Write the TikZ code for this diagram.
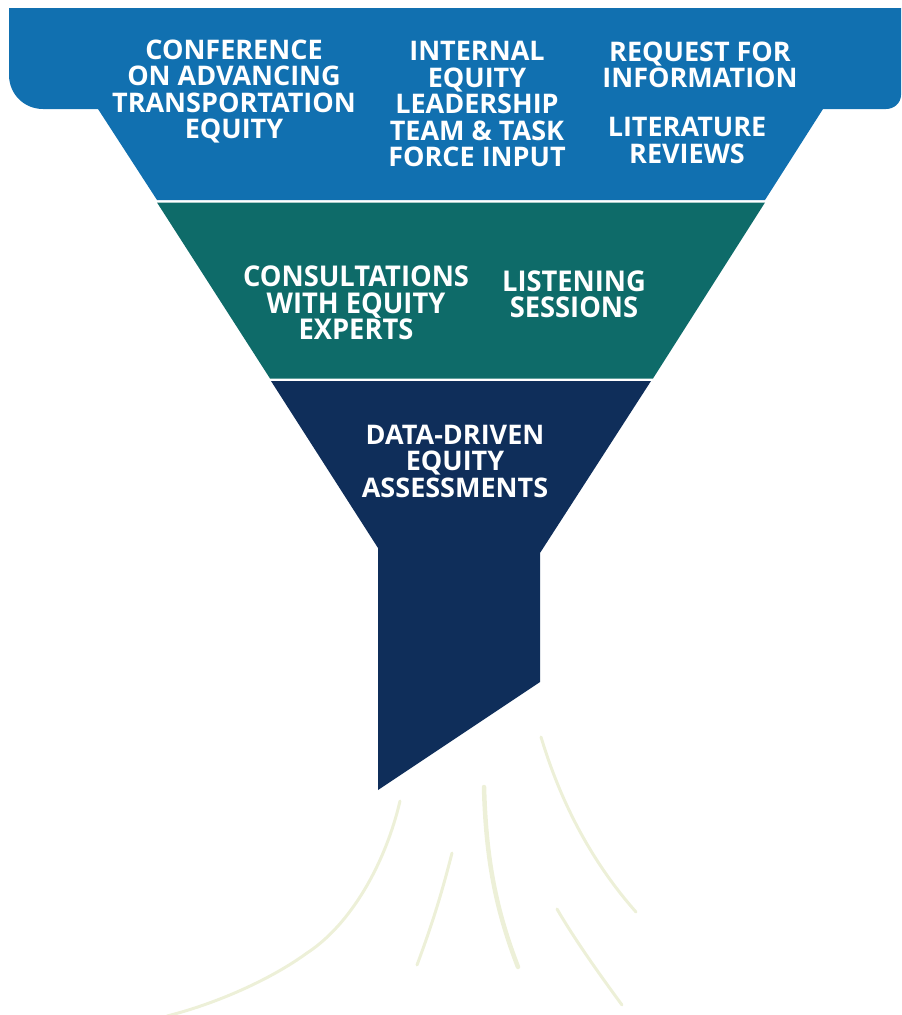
\documentclass[tikz,border=0pt]{standalone}
\usepackage{fontspec}
\setmainfont{Open Sans}
\definecolor{topblue}{HTML}{1170B0}
\definecolor{midteal}{HTML}{0E6B69}
\definecolor{lownavy}{HTML}{0F2E5A}
\definecolor{streak}{HTML}{EDF0D8}
\newcommand{\cnd}[1]{\scalebox{1.03}[1.08]{#1}}
\begin{document}
\begin{tikzpicture}[x=1pt,y=-1pt,
  lbl/.style={text=white,align=center,inner sep=0pt,font=\fontsize{27}{26.5}\selectfont\bfseries},
  cond/.style={text=white,align=center,inner sep=0pt,font=\fontsize{26.5}{26.5}\selectfont\bfseries},
  flow/.style={draw=streak,line cap=round,line width=3pt}]
\useasboundingbox (0,0) rectangle (902,1015);
% funnel bands
\fill[topblue] (9,8) -- (901,8) -- (901,95) .. controls (901,103) and (894,109) .. (886,109)
  -- (823,109) -- (765,200) -- (157,200) -- (98,109) -- (43,109)
  .. controls (24,109) and (9,94) .. (9,75) -- cycle;
\fill[midteal] (157,202.5) -- (765,202.5) -- (653,378.5) -- (270,378.5) -- cycle;
\fill[lownavy] (271,381) -- (651,381) -- (540,553) -- (540,682) -- (378,790) -- (378,548) -- cycle;
% labels
\node[lbl] (conf) at (234,91.5) {CONFERENCE\\ON ADVANCING\\TRANSPORTATION\\EQUITY};
\node[lbl] (internal) at (477,104) {INTERNAL\\EQUITY\\LEADERSHIP\\TEAM \& TASK\\FORCE INPUT};
\node[lbl] (rfi) at (700,65) {REQUEST FOR\\INFORMATION};
\node[lbl] (lit) at (687,140.5) {LITERATURE\\REVIEWS};
\node[cond] (consult) at (356,303) {\cnd{CONSULTATIONS}\\\cnd{WITH EQUITY}\\\cnd{EXPERTS}};
\node[cond] (listen) at (574,294.5) {\cnd{LISTENING}\\\cnd{SESSIONS}};
\node[lbl] (data) at (455,461) {DATA-DRIVEN\\EQUITY\\ASSESSMENTS};
% streaks
\draw[flow] (400,801) .. controls (385,865) and (350,925) .. (307,953) .. controls (270,980) and (215,1004) .. (167,1016);
\draw[flow] (452,853) .. controls (440,900) and (430,930) .. (417,965);
\draw[flow,line width=4.5pt] (484,787) .. controls (486,860) and (496,910) .. (518,967);
\draw[flow] (541,737) .. controls (560,800) and (590,860) .. (636,912);
\draw[flow] (557,909) .. controls (575,940) and (600,975) .. (622,1005);
\end{tikzpicture}
\end{document}
